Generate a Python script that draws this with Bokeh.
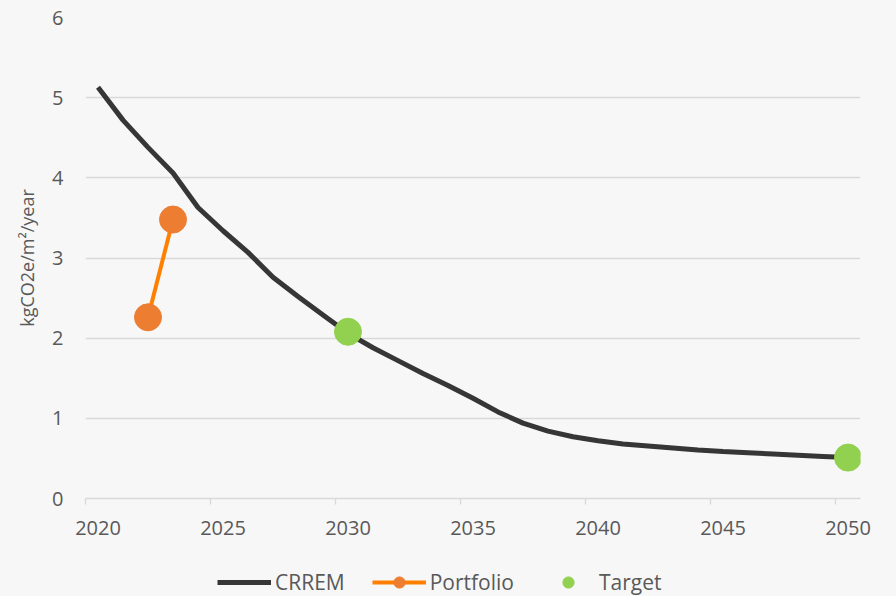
from bokeh.plotting import figure
from bokeh.models import FixedTicker, Range1d, Legend, LegendItem
from bokeh.layouts import column
from bokeh.embed import file_html
from bokeh.resources import INLINE

years = [2020, 2021, 2022, 2023, 2024, 2025, 2026, 2027, 2028, 2029, 2030,
         2031, 2032, 2033, 2034, 2035, 2036, 2037, 2038, 2039, 2040,
         2041, 2042, 2043, 2044, 2045, 2046, 2047, 2048, 2049, 2050]
crrem = [5.13, 4.72, 4.38, 4.06, 3.63, 3.34, 3.07, 2.76, 2.52, 2.29, 2.06,
         1.88, 1.72, 1.56, 1.41, 1.25, 1.08, 0.94, 0.84, 0.77, 0.72,
         0.68, 0.655, 0.63, 0.605, 0.585, 0.57, 0.555, 0.54, 0.525, 0.51]
portfolio_years = [2022, 2023]
portfolio = [2.26, 3.48]
target_years = [2030, 2050]
target = [2.08, 0.51]
x_tick_years = [2020, 2025, 2030, 2035, 2040, 2045, 2050]
y_ticks = [0, 1, 2, 3, 4, 5, 6]

FONT = "Open Sans"
TXT = "#595959"
GRID = "#d9d9d9"
BG = "#f7f7f7"
C_CRREM = "#363636"
C_PLINE = "#ff8000"
C_PDOT = "#ed7d31"
C_TDOT = "#92d050"

p = figure(width=896, height=550, output_backend="svg", toolbar_location=None,
           x_range=Range1d(years[0] - 0.5, years[-1] + 0.5), y_range=Range1d(0, 6),
           min_border_left=85, min_border_right=36, min_border_top=17, min_border_bottom=52)
p.background_fill_color = BG
p.border_fill_color = BG
p.outline_line_color = None

p.xgrid.grid_line_color = None
p.ygrid.grid_line_color = GRID
p.ygrid.grid_line_width = 1.3
p.ygrid.ticker = FixedTicker(ticks=y_ticks)

xa = p.xaxis[0]
xa.ticker = FixedTicker(ticks=x_tick_years, minor_ticks=[y - 0.5 for y in x_tick_years])
xa.axis_line_color = GRID
xa.axis_line_width = 1.3
xa.major_tick_line_color = None
xa.major_tick_out = 0
xa.major_tick_in = 0
xa.minor_tick_line_color = GRID
xa.minor_tick_line_width = 1.3
xa.minor_tick_out = 6
xa.minor_tick_in = 0
xa.major_label_text_font = FONT
xa.major_label_text_font_size = "20px"
xa.major_label_text_color = TXT
xa.major_label_standoff = 16

ya = p.yaxis[0]
ya.ticker = FixedTicker(ticks=y_ticks)
ya.axis_line_color = None
ya.major_tick_line_color = None
ya.minor_tick_line_color = None
ya.major_tick_out = 0
ya.major_tick_in = 0
ya.major_label_text_font = FONT
ya.major_label_text_font_size = "20px"
ya.major_label_text_color = TXT
ya.major_label_standoff = 22
ya.axis_label = "kgCO2e/m²/year"
ya.axis_label_text_font = FONT
ya.axis_label_text_font_size = "18px"
ya.axis_label_text_font_style = "normal"
ya.axis_label_text_color = TXT
ya.axis_label_standoff = 10

p.line(years, crrem, line_color=C_CRREM, line_width=5)
p.line(portfolio_years, portfolio, line_color=C_PLINE, line_width=4)
p.scatter(portfolio_years, portfolio, size=27, fill_color=C_PDOT, line_color=C_PDOT)
p.scatter(target_years, target, size=27, fill_color=C_TDOT, line_color=C_TDOT)

# Legend strip: same series drawn out of view so only the legend shows
q = figure(width=896, height=46, output_backend="svg", toolbar_location=None,
           x_range=Range1d(0, 1), y_range=Range1d(0, 1),
           min_border_left=85, min_border_right=36, min_border_top=0, min_border_bottom=0)
q.background_fill_color = BG
q.border_fill_color = BG
q.outline_line_color = None
q.axis.visible = False
q.grid.visible = False
l_crrem = q.line(years, crrem, line_color=C_CRREM, line_width=5)
l_pline = q.line(portfolio_years, portfolio, line_color=C_PLINE, line_width=4)
l_pdot = q.scatter(portfolio_years, portfolio, size=27, fill_color=C_PDOT, line_color=C_PDOT)
l_tdot = q.scatter(target_years, target, size=27, fill_color=C_TDOT, line_color=C_TDOT)

legend = Legend(items=[
    LegendItem(label="CRREM", renderers=[l_crrem]),
    LegendItem(label="Portfolio", renderers=[l_pline, l_pdot]),
    LegendItem(label="Target", renderers=[l_tdot]),
], orientation="horizontal", location=(132, 0))
legend.label_text_font = FONT
legend.label_text_font_size = "21px"
legend.label_text_color = TXT
legend.glyph_width = 54
legend.glyph_height = 28
legend.label_standoff = 4
legend.spacing = 27
legend.padding = 0
legend.margin = 0
legend.border_line_color = None
legend.background_fill_alpha = 0
q.add_layout(legend)

layout = column(p, q, spacing=0, styles={"background-color": BG})
open("out.html", "w").write(file_html(layout, INLINE))
